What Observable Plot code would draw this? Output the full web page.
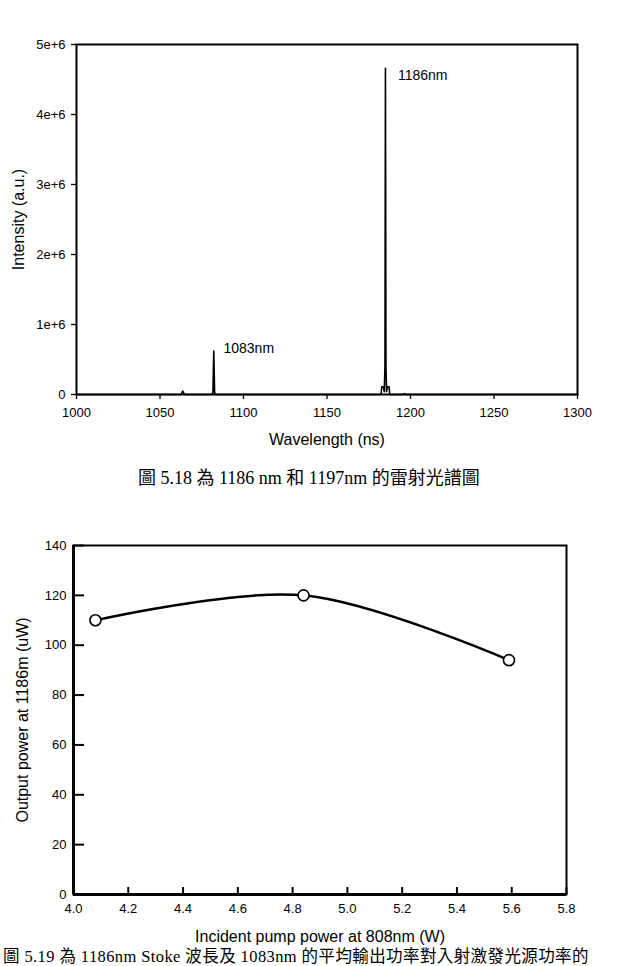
<!DOCTYPE html>
<html><head><meta charset="utf-8">
<script src="https://cdn.jsdelivr.net/npm/d3@7"></script>
<script src="https://cdn.jsdelivr.net/npm/@observablehq/plot@0.6"></script>
<style>
body{margin:0;background:#fff;}
#wrap{position:relative;width:617px;height:966px;overflow:hidden;background:#fff;font-family:"Liberation Sans",Arial,sans-serif;}
.cap{position:absolute;white-space:nowrap;font-family:"Liberation Serif","Noto Sans CJK TC",serif;color:#000;}
#c1{position:absolute;left:0;top:0;}
#c2{position:absolute;left:0;top:500px;}
</style></head>
<body><div id="wrap"><div id="c1"></div><div id="c2"></div>
<div class="cap" id="cap1" style="left:138px;top:469px;font-size:18px;line-height:18px;">圖 5.18 為 1186 nm 和 1197nm 的雷射光譜圖</div>
<div class="cap" id="cap2" style="left:3px;top:949px;font-size:16.5px;line-height:16px;letter-spacing:0.4px;">圖 5.19 為 1186nm Stoke 波長及 1083nm 的平均輸出功率對入射激發光源功率的</div>
</div>
<script>
// Spectrum (top chart)
const specWavelength = [1000, 1062.5, 1063.6, 1064.7, 1081.2, 1081.7, 1082.2, 1082.7, 1083.2, 1182.4, 1182.8, 1183.8, 1184.3, 1184.7, 1185.0, 1185.3, 1185.7, 1186.2, 1187.2, 1187.6, 1195.8, 1196.4, 1197.0, 1300];
const specIntensity  = [0, 0, 0.05e6, 0, 0, 0.03e6, 0.62e6, 0.03e6, 0, 0, 0.11e6, 0.11e6, 0.04e6, 0.4e6, 4.66e6, 0.4e6, 0.04e6, 0.11e6, 0.11e6, 0, 0, 0.012e6, 0, 0];
const specXTicks = [1000, 1050, 1100, 1150, 1200, 1250, 1300];
const specYTicks = [0, 1e6, 2e6, 3e6, 4e6, 5e6];
const peakLabels = ["1186nm", "1083nm"];
const peakLabelX = [1192.5, 1088];
const peakLabelY = [4.56e6, 0.66e6];

// Output power (bottom chart)
const pumpPower = [4.08, 4.84, 5.59];
const outputPower = [110, 120, 94];
const powXTicks = [4.0, 4.2, 4.4, 4.6, 4.8, 5.0, 5.2, 5.4, 5.6, 5.8];
const powYTicks = [0, 20, 40, 60, 80, 100, 120, 140];

const spec = specWavelength.map((w, i) => ({w, v: specIntensity[i]}));
const labs = peakLabels.map((t, i) => ({t, x: peakLabelX[i], y: peakLabelY[i]}));
const pts = pumpPower.map((p, i) => ({p, o: outputPower[i]}));

const font = "'Liberation Sans', Arial, sans-serif";

const p1 = Plot.plot({
  width: 617, height: 460,
  marginTop: 44, marginBottom: 66, marginLeft: 76, marginRight: 40,
  style: {fontFamily: font, fontSize: "13px", color: "#000", background: "#fff"},
  x: {domain: [1000, 1300]},
  y: {domain: [0, 5e6]},
  marks: [
    Plot.axisX({ticks: specXTicks, tickSize: 5, tickPadding: 8, fontSize: 13, strokeWidth: 1.3,
      tickFormat: d => String(d),
      label: "Wavelength (ns)", labelAnchor: "center", labelArrow: "none", labelOffset: 50}),
    Plot.axisY({ticks: specYTicks, tickSize: 5, tickPadding: 6, fontSize: 13, strokeWidth: 1.3,
      tickFormat: d => d === 0 ? "0" : (d / 1e6) + "e+6",
      label: "Intensity (a.u.)", labelAnchor: "center", labelArrow: "none", labelOffset: 64}),
    Plot.line(spec, {x: "w", y: "v", stroke: "#000", strokeWidth: 1.6}),
    Plot.frame({stroke: "#000", strokeWidth: 2}),
    Plot.text(labs, {x: "x", y: "y", text: "t", textAnchor: "start", fontSize: 14, fill: "#000"})
  ]
});
p1.querySelectorAll("[aria-label='x-axis label'] text, [aria-label='y-axis label'] text").forEach(t => t.setAttribute("font-size", "16"));
document.getElementById("c1").appendChild(p1);

const p2 = Plot.plot({
  width: 617, height: 448,
  marginTop: 45, marginBottom: 54, marginLeft: 73, marginRight: 51,
  style: {fontFamily: font, fontSize: "13px", color: "#000", background: "#fff"},
  x: {domain: [4.0, 5.8]},
  y: {domain: [0, 140]},
  marks: [
    Plot.axisX({ticks: powXTicks, tickSize: 0, tickPadding: 9, fontSize: 13, tickFormat: d3.format(".1f"),
      label: "Incident pump power at 808nm (W)", labelAnchor: "center", labelArrow: "none", labelOffset: 47}),
    Plot.axisY({ticks: powYTicks, tickSize: 0, tickPadding: 7, fontSize: 13,
      label: "Output power at 1186m (uW)", labelAnchor: "center", labelArrow: "none", labelOffset: 57}),
    Plot.ruleX(powXTicks, {x: d => d, y1: 0, y2: 2.8, stroke: "#000", strokeWidth: 2}),
    Plot.ruleY(powYTicks, {y: d => d, x1: 4.0, x2: 4.04, stroke: "#000", strokeWidth: 2}),
    Plot.frame({stroke: "#000", strokeWidth: 2}),
    Plot.ruleX([4.0], {stroke: "#000", strokeWidth: 3}),
    Plot.ruleY([0], {stroke: "#000", strokeWidth: 3}),
    Plot.line(pts, {x: "p", y: "o", curve: "catmull-rom", stroke: "#000", strokeWidth: 2.5}),
    Plot.dot(pts, {x: "p", y: "o", r: 5.5, fill: "#fff", stroke: "#000", strokeWidth: 1.6})
  ]
});
p2.querySelectorAll("[aria-label='x-axis label'] text, [aria-label='y-axis label'] text").forEach(t => t.setAttribute("font-size", "16"));
document.getElementById("c2").appendChild(p2);
</script>
</body></html>
